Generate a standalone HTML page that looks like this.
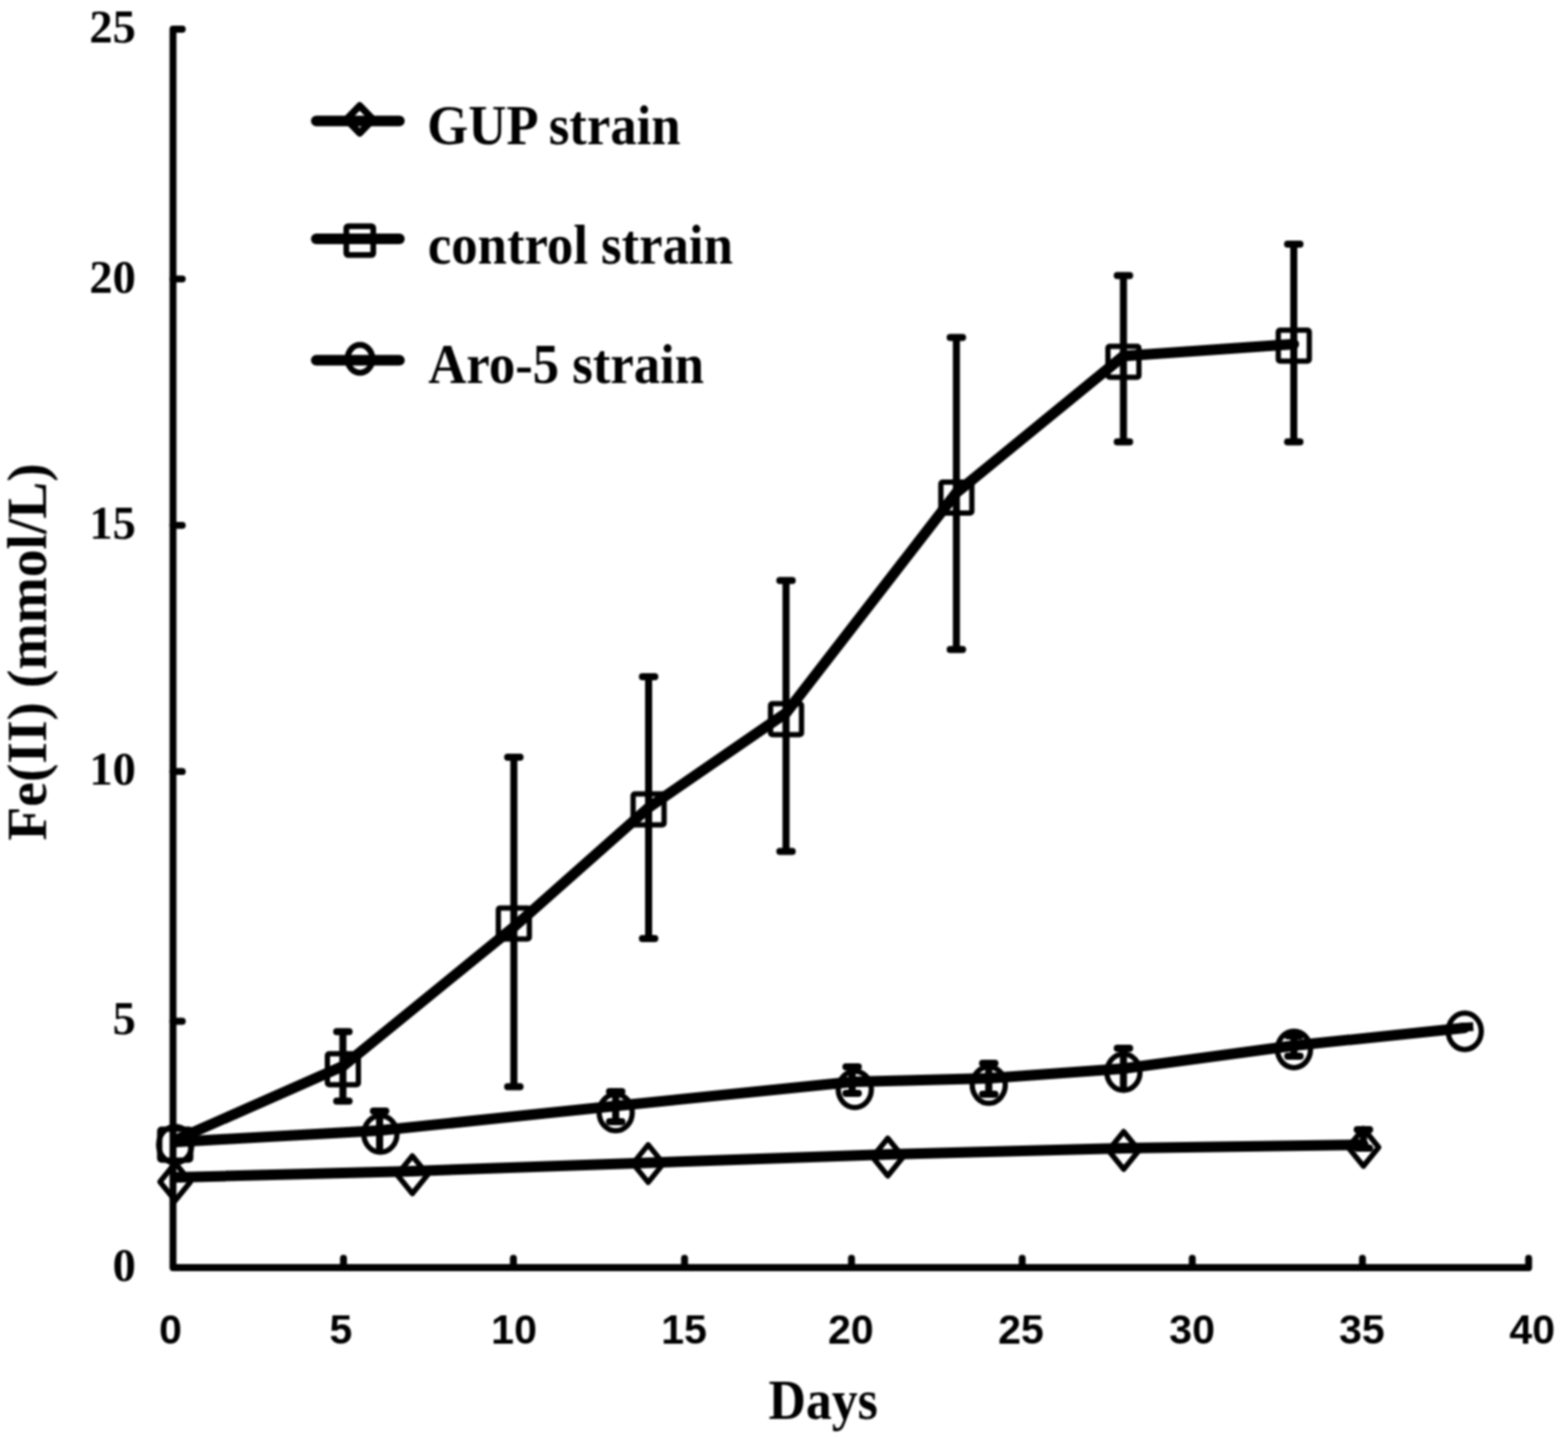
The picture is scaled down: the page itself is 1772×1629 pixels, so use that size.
<!DOCTYPE html>
<html><head><meta charset="utf-8"><title>Fe(II) vs Days</title>
<style>
html,body{margin:0;padding:0;background:#fff;}
body{width:1772px;height:1629px;overflow:hidden;}
svg{display:block;filter:blur(1px);}
.yl{font-family:"Liberation Serif", "Times New Roman", serif;font-weight:bold;font-size:52.5px;fill:#000;}
.xl{font-family:"Liberation Sans", Arial, sans-serif;font-weight:bold;font-size:46.5px;fill:#000;}
.ttl{font-family:"Liberation Serif", "Times New Roman", serif;font-weight:bold;font-size:58.5px;fill:#000;}
.ttl2{font-family:"Liberation Serif", "Times New Roman", serif;font-weight:bold;font-size:62.7px;fill:#000;}
.lg{font-family:"Liberation Serif", "Times New Roman", serif;font-weight:bold;font-size:59.6px;fill:#000;}
</style></head>
<body>
<svg width="1772" height="1629" viewBox="0 0 1772 1629">
<rect width="1772" height="1629" fill="#fff"/>
<path d="M206,33 H195.5 V1433 H1727.5 V1422.5" fill="none" stroke="#000" stroke-width="7.8" stroke-linejoin="round" stroke-linecap="round"/>
<line x1="195.5" y1="315.3" x2="206" y2="315.3" stroke="#000" stroke-width="7.8" stroke-linecap="round"/>
<line x1="195.5" y1="593.8" x2="206" y2="593.8" stroke="#000" stroke-width="7.8" stroke-linecap="round"/>
<line x1="195.5" y1="872.2" x2="206" y2="872.2" stroke="#000" stroke-width="7.8" stroke-linecap="round"/>
<line x1="195.5" y1="1154.5" x2="206" y2="1154.5" stroke="#000" stroke-width="7.8" stroke-linecap="round"/>
<line x1="388.2" y1="1433" x2="388.2" y2="1422.5" stroke="#000" stroke-width="7.8" stroke-linecap="round"/>
<line x1="580.2" y1="1433" x2="580.2" y2="1422.5" stroke="#000" stroke-width="7.8" stroke-linecap="round"/>
<line x1="773.6" y1="1433" x2="773.6" y2="1422.5" stroke="#000" stroke-width="7.8" stroke-linecap="round"/>
<line x1="962.3" y1="1433" x2="962.3" y2="1422.5" stroke="#000" stroke-width="7.8" stroke-linecap="round"/>
<line x1="1155.2" y1="1433" x2="1155.2" y2="1422.5" stroke="#000" stroke-width="7.8" stroke-linecap="round"/>
<line x1="1347.4" y1="1433" x2="1347.4" y2="1422.5" stroke="#000" stroke-width="7.8" stroke-linecap="round"/>
<line x1="1539.7" y1="1433" x2="1539.7" y2="1422.5" stroke="#000" stroke-width="7.8" stroke-linecap="round"/>
<text x="153.5" y="48.0" text-anchor="end" class="yl">25</text>
<text x="153.5" y="330.7" text-anchor="end" class="yl">20</text>
<text x="153.5" y="608.8" text-anchor="end" class="yl">15</text>
<text x="153.5" y="887.2" text-anchor="end" class="yl">10</text>
<text x="153.5" y="1169.2" text-anchor="end" class="yl">5</text>
<text x="153.5" y="1447.8" text-anchor="end" class="yl">0</text>
<text x="192.7" y="1519" text-anchor="middle" class="xl">0</text>
<text x="385.3" y="1519" text-anchor="middle" class="xl">5</text>
<text x="580.9" y="1519" text-anchor="middle" class="xl">10</text>
<text x="773.0" y="1519" text-anchor="middle" class="xl">15</text>
<text x="961.5" y="1519" text-anchor="middle" class="xl">20</text>
<text x="1153.8" y="1519" text-anchor="middle" class="xl">25</text>
<text x="1347.2" y="1519" text-anchor="middle" class="xl">30</text>
<text x="1539.0" y="1519" text-anchor="middle" class="xl">35</text>
<text x="1731.5" y="1519" text-anchor="middle" class="xl">40</text>
<text transform="translate(868.5,1603.5) scale(1,1.09)" class="ttl">Days</text>
<text transform="translate(51.8,950.2) rotate(-90)" class="ttl2">Fe(II) (mmol/L)</text>
<polyline points="198,1331 466,1324 732.5,1314.5 1003.3,1305 1269.9,1298 1540.8,1294" fill="none" stroke="#000" stroke-width="12" stroke-linejoin="round" stroke-linecap="round"/>
<path d="M198,1314.75 L215.25,1336 L198,1357.25 L180.75,1336 Z" fill="none" stroke="#000" stroke-width="6" stroke-linejoin="round"/>
<path d="M466,1306.75 L483.25,1328 L466,1349.25 L448.75,1328 Z" fill="none" stroke="#000" stroke-width="6" stroke-linejoin="round"/>
<path d="M732.5,1294.15 L749.75,1315.4 L732.5,1336.65 L715.25,1315.4 Z" fill="none" stroke="#000" stroke-width="6" stroke-linejoin="round"/>
<path d="M1003.3,1286.75 L1020.55,1308 L1003.3,1329.25 L986.05,1308 Z" fill="none" stroke="#000" stroke-width="6" stroke-linejoin="round"/>
<path d="M1269.9,1279.25 L1287.15,1300.5 L1269.9,1321.75 L1252.65,1300.5 Z" fill="none" stroke="#000" stroke-width="6" stroke-linejoin="round"/>
<path d="M1540.8,1277 V1298 M1533.8,1277 H1547.8 M1533.8,1298 H1547.8" fill="none" stroke="#000" stroke-width="8" stroke-linecap="round"/>
<path d="M1540.8,1275.75 L1558.05,1297 L1540.8,1318.25 L1523.55,1297 Z" fill="none" stroke="#000" stroke-width="6" stroke-linejoin="round"/>
<polyline points="198,1291 429,1278 695.8,1250.3 963,1223 1117.4,1219 1269.6,1208 1462.3,1182 1655,1162" fill="none" stroke="#000" stroke-width="12" stroke-linejoin="round" stroke-linecap="round"/>
<line x1="1650" y1="1161.6" x2="1665" y2="1160.6" stroke="#000" stroke-width="10"/>
<ellipse cx="198" cy="1294" rx="18.7" ry="20.6" fill="none" stroke="#000" stroke-width="6"/>
<path d="M429,1256 V1298 M422.0,1256 H436.0" fill="none" stroke="#000" stroke-width="8" stroke-linecap="round"/>
<ellipse cx="429.9" cy="1281.9" rx="18.7" ry="20.6" fill="none" stroke="#000" stroke-width="6"/>
<path d="M695.8,1234 V1268 M688.8,1234 H702.8 M688.8,1268 H702.8" fill="none" stroke="#000" stroke-width="8" stroke-linecap="round"/>
<ellipse cx="695.8" cy="1257.7" rx="18.7" ry="20.6" fill="none" stroke="#000" stroke-width="6"/>
<path d="M963,1206 V1236 M956.0,1206 H970.0 M956.0,1236 H970.0" fill="none" stroke="#000" stroke-width="8" stroke-linecap="round"/>
<ellipse cx="966" cy="1231.5" rx="18.7" ry="20.6" fill="none" stroke="#000" stroke-width="6"/>
<path d="M1117.4,1202 V1237 M1110.4,1202 H1124.4 M1110.4,1237 H1124.4" fill="none" stroke="#000" stroke-width="8" stroke-linecap="round"/>
<ellipse cx="1117.4" cy="1226.6" rx="18.7" ry="20.6" fill="none" stroke="#000" stroke-width="6"/>
<path d="M1269.6,1185 V1228 M1262.6,1185 H1276.6" fill="none" stroke="#000" stroke-width="8" stroke-linecap="round"/>
<ellipse cx="1269.6" cy="1212" rx="18.7" ry="20.6" fill="none" stroke="#000" stroke-width="6"/>
<path d="M1462.3,1171 V1194 M1455.3,1171 H1469.3 M1455.3,1194 H1469.3" fill="none" stroke="#000" stroke-width="8" stroke-linecap="round"/>
<ellipse cx="1462.3" cy="1186.3" rx="18.7" ry="20.6" fill="none" stroke="#000" stroke-width="6"/>
<ellipse cx="1655.3" cy="1165.8" rx="18.7" ry="20.6" fill="none" stroke="#000" stroke-width="6"/>
<polyline points="198,1289 387.5,1205.3 580.7,1048 733,913 888.3,806 1080.8,557 1269.6,402.5 1462.1,389" fill="none" stroke="#000" stroke-width="12" stroke-linejoin="round" stroke-linecap="round"/>
<rect x="180.5" y="1276.5" width="35" height="35" rx="2" fill="none" stroke="#000" stroke-width="6"/>
<path d="M387.5,1166.3 V1244.8 M380.5,1166.3 H394.5 M380.5,1244.8 H394.5" fill="none" stroke="#000" stroke-width="8" stroke-linecap="round"/>
<rect x="370.0" y="1191.2" width="35" height="35" rx="2" fill="none" stroke="#000" stroke-width="6"/>
<path d="M580.7,856.0 V1228.6 M573.7,856.0 H587.7 M573.7,1228.6 H587.7" fill="none" stroke="#000" stroke-width="8" stroke-linecap="round"/>
<rect x="563.2" y="1026.4" width="35" height="35" rx="2" fill="none" stroke="#000" stroke-width="6"/>
<path d="M733,765.0 V1061.0 M726.0,765.0 H740.0 M726.0,1061.0 H740.0" fill="none" stroke="#000" stroke-width="8" stroke-linecap="round"/>
<rect x="715.5" y="897.5" width="35" height="35" rx="2" fill="none" stroke="#000" stroke-width="6"/>
<path d="M888.3,656.3 V962.5 M881.3,656.3 H895.3 M881.3,962.5 H895.3" fill="none" stroke="#000" stroke-width="8" stroke-linecap="round"/>
<rect x="870.8" y="795.5" width="35" height="35" rx="2" fill="none" stroke="#000" stroke-width="6"/>
<path d="M1080.8,381.6 V734.2 M1073.8,381.6 H1087.8 M1073.8,734.2 H1087.8" fill="none" stroke="#000" stroke-width="8" stroke-linecap="round"/>
<rect x="1063.3" y="545.0" width="35" height="35" rx="2" fill="none" stroke="#000" stroke-width="6"/>
<path d="M1269.6,311.6 V499.5 M1262.6,311.6 H1276.6 M1262.6,499.5 H1276.6" fill="none" stroke="#000" stroke-width="8" stroke-linecap="round"/>
<rect x="1252.1" y="391.5" width="35" height="35" rx="2" fill="none" stroke="#000" stroke-width="6"/>
<path d="M1462.1,276.1 V499.5 M1455.1,276.1 H1469.1 M1455.1,499.5 H1469.1" fill="none" stroke="#000" stroke-width="8" stroke-linecap="round"/>
<rect x="1444.6" y="373.3" width="35" height="35" rx="2" fill="none" stroke="#000" stroke-width="6"/>
<line x1="357.4" y1="136.8" x2="451.4" y2="136.8" stroke="#000" stroke-width="12" stroke-linecap="round"/>
<path d="M406.5,119.5 L421.5,135.0 L406.5,150.5 L391.5,135.0 Z" fill="none" stroke="#000" stroke-width="8" stroke-linejoin="round"/>
<text transform="translate(482.8,162.6) scale(1,1.075)" class="lg">GUP strain</text>
<line x1="357.4" y1="270.1" x2="451.4" y2="270.1" stroke="#000" stroke-width="12" stroke-linecap="round"/>
<rect x="391.40000000000003" y="255.75" width="30.4" height="32.5" rx="2" fill="none" stroke="#000" stroke-width="6.5"/>
<text transform="translate(483.5,297.8) scale(1,1.075)" class="lg">control strain</text>
<line x1="357.4" y1="407.3" x2="451.4" y2="407.3" stroke="#000" stroke-width="12" stroke-linecap="round"/>
<ellipse cx="406.8" cy="405.7" rx="14" ry="15.75" fill="none" stroke="#000" stroke-width="6.8"/>
<text transform="translate(484,433.3) scale(1,1.075)" class="lg">Aro-5 strain</text>
</svg>
</body></html>
